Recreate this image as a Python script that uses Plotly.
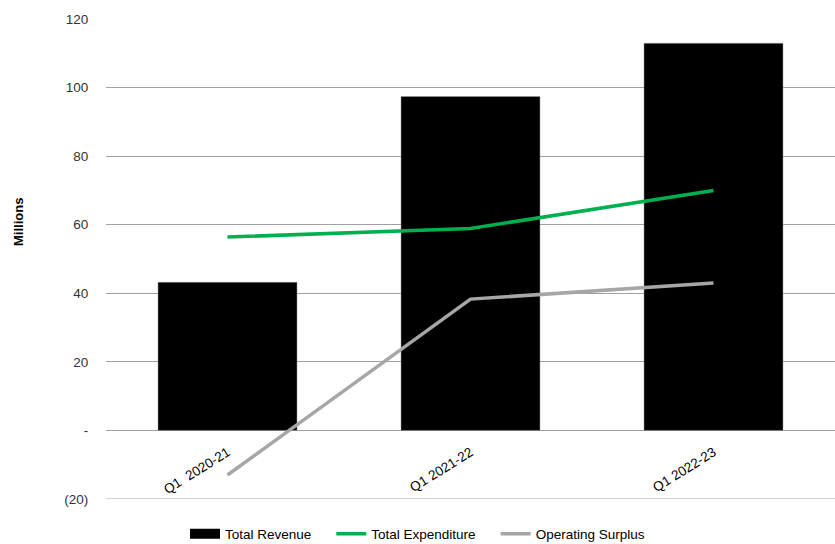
import plotly.graph_objects as go

categories = ["Q1  2020-21", "Q1 2021-22", "Q1 2022-23"]
total_revenue = [43.2, 97.4, 112.9]
total_expenditure = [56.4, 58.9, 70.0]
operating_surplus = [-13.0, 38.3, 43.0]

y_tickvals = [-20, 0, 20, 40, 60, 80, 100, 120]
y_ticktext = ["(20)", "-", "20", "40", "60", "80", "100", "120"]

FONT = "Liberation Sans"
GRID = "#a0a0a0"
PAD = "\u00a0" * 4  # extra spacing between legend entries

fig = go.Figure()
fig.add_trace(go.Bar(
    x=categories, y=total_revenue, name="Total Revenue",
    marker=dict(color="#000000", line=dict(color="#9a9a9a", width=0.5)),
    width=0.572, showlegend=False, legendgroup="rev",
))
# legend entry for the bars drawn as a wide black swatch (no marks plotted)
fig.add_trace(go.Scatter(
    x=[None], y=[None], name="Total Revenue" + PAD, mode="lines",
    line=dict(color="#000000", width=11), legendgroup="rev",
))
fig.add_trace(go.Scatter(
    x=categories, y=total_expenditure, name="Total Expenditure" + PAD,
    mode="lines", line=dict(color="#00b050", width=3.5),
))
fig.add_trace(go.Scatter(
    x=categories, y=operating_surplus, name="Operating Surplus",
    mode="lines", line=dict(color="#a6a6a6", width=3.5),
))

fig.update_layout(
    width=835, height=544,
    margin=dict(l=106, r=0, t=19, b=45, autoexpand=False),
    paper_bgcolor="white", plot_bgcolor="white",
    font=dict(family=FONT, size=13, color="#000000"),
    showlegend=True,
    legend=dict(
        orientation="h", xref="container", x=0.5, xanchor="center",
        yref="container", y=(544 - 534) / 544, yanchor="middle",
        font=dict(family=FONT, size=13.5), traceorder="normal",
        itemwidth=30, tracegroupgap=0,
    ),
    xaxis=dict(
        anchor="free", position=20 / 140, automargin=False,
        showgrid=False, zeroline=False, showline=False,
        tickangle=-32, tickfont=dict(family=FONT, size=13.5),
        ticks="outside", ticklen=8, tickcolor="rgba(0,0,0,0)",
    ),
    yaxis=dict(
        range=[-20, 120], tickvals=y_tickvals, ticktext=y_ticktext,
        automargin=False,
        showgrid=True, gridcolor=GRID, gridwidth=1,
        zeroline=True, zerolinecolor=GRID, zerolinewidth=1,
        showline=False,
        ticks="outside", ticklen=14, tickcolor="rgba(0,0,0,0)",
        tickfont=dict(family=FONT, size=13.5, color="#333333"),
    ),
    shapes=[dict(
        type="line", xref="paper", yref="y", x0=0, x1=1, y0=-20, y1=-20,
        line=dict(color=GRID, width=1), layer="below",
    )],
    annotations=[dict(
        text="<b>Millions</b>", xref="paper", yref="paper",
        x=(18 - 106) / 729, y=(499 - 222) / 480, xanchor="center", yanchor="middle",
        textangle=-90, showarrow=False, font=dict(family=FONT, size=13),
    )],
)

fig.write_html("out.html")
